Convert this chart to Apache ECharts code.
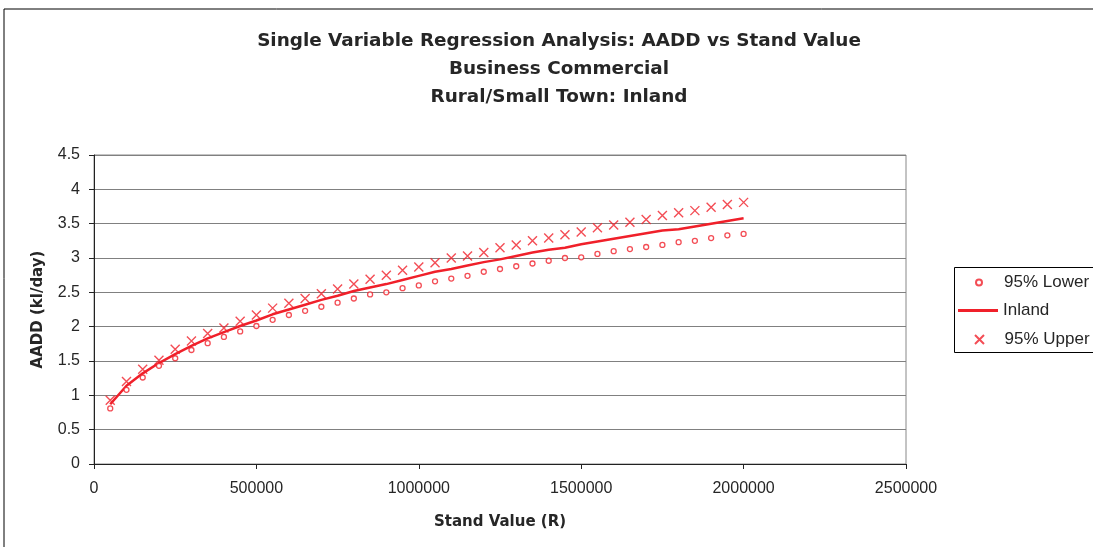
<!DOCTYPE html>
<html>
<head>
<meta charset="utf-8">
<script src="https://cdn.jsdelivr.net/npm/echarts@6/dist/echarts.min.js"></script>
<style>
html,body{margin:0;padding:0;background:#fff;}
#c{width:1093px;height:547px;}
</style>
</head>
<body>
<div id="c"></div>
<script>
const standValue = [50000,100000,150000,200000,250000,300000,350000,400000,450000,500000,
  550000,600000,650000,700000,750000,800000,850000,900000,950000,1000000,
  1050000,1100000,1150000,1200000,1250000,1300000,1350000,1400000,1450000,1500000,
  1550000,1600000,1650000,1700000,1750000,1800000,1850000,1900000,1950000,2000000];
const lower95 = [0.81,1.08,1.26,1.43,1.54,1.66,1.76,1.85,1.93,2.01,
  2.10,2.17,2.23,2.29,2.35,2.41,2.47,2.50,2.56,2.60,
  2.66,2.70,2.74,2.80,2.84,2.88,2.92,2.96,3.00,3.01,
  3.06,3.10,3.13,3.16,3.19,3.23,3.25,3.29,3.33,3.35];
const inland = [0.87,1.14,1.32,1.47,1.60,1.72,1.83,1.92,2.01,2.09,
  2.18,2.25,2.32,2.39,2.45,2.52,2.57,2.62,2.68,2.74,
  2.80,2.84,2.89,2.94,2.98,3.03,3.08,3.12,3.15,3.20,
  3.24,3.28,3.32,3.36,3.40,3.42,3.46,3.50,3.54,3.58];
const upper95 = [0.93,1.20,1.38,1.51,1.67,1.79,1.90,1.98,2.08,2.17,
  2.27,2.34,2.41,2.48,2.55,2.62,2.69,2.75,2.82,2.87,
  2.93,3.00,3.03,3.08,3.15,3.19,3.25,3.29,3.34,3.38,
  3.44,3.48,3.52,3.56,3.62,3.66,3.69,3.74,3.78,3.81];
const seriesNames = ['95% Lower','Inland','95% Upper'];
const titleLines = ['Single Variable Regression Analysis: AADD vs Stand Value','Business Commercial','Rural/Small Town: Inland'];
const xAxisTitle = 'Stand Value (R)';
const yAxisTitle = 'AADD (kl/day)';

const RED = '#f0202a';
const FONT = '"Liberation Sans", Arial, sans-serif';
const BOLDFONT = '"DejaVu Sans", "Liberation Sans", sans-serif';
const TXT = '#262626';
const pairs = ys => standValue.map((x,i)=>[x, ys[i]]);
const legendText = {fontFamily: FONT, fontSize: 17, color: TXT};

const chart = echarts.init(document.getElementById('c'), null, {renderer:'canvas'});
chart.setOption({
  animation: false,
  backgroundColor: '#fff',
  textStyle: {fontFamily: FONT},
  title: {
    text: titleLines.join('\n'),
    left: 554, top: 22, textAlign: 'center',
    textStyle: {fontFamily: BOLDFONT, fontSize: 18.4, fontWeight: 'bold', color: TXT, lineHeight: 28}
  },
  graphic: [
    {type:'rect', shape:{x:4, y:9, width:1200, height:700}, style:{fill:'none', stroke:'#000', lineWidth:1}, silent:true, z:-10},
    {type:'rect', shape:{x:954.5, y:267.5, width:200, height:85}, style:{fill:'#fff', stroke:'#000', lineWidth:1}, silent:true, z:-5}
  ],
  legend: [
    {data:[seriesNames[0]], left:975, top:274, padding:0, itemWidth:40, itemHeight:6, textStyle:legendText, selectedMode:false},
    {data:[{name:seriesNames[1], icon:'rect'}], left:958, top:302, padding:0, itemWidth:40, itemHeight:3, textStyle:legendText, selectedMode:false},
    {data:[seriesNames[2]], left:974, top:331, padding:0, itemWidth:40, itemHeight:9, textStyle:legendText, selectedMode:false}
  ],
  grid: {left:94, right:187, top:155, bottom:83, show:true, borderColor:'#888', borderWidth:1, backgroundColor:'#fff', containLabel:false},
  xAxis: {
    type:'value', min:0, max:2500000, interval:500000,
    name: xAxisTitle, nameLocation:'middle', nameGap:51,
    nameTextStyle:{fontFamily:BOLDFONT, fontSize:15, fontWeight:'bold', color:TXT},
    axisLine:{show:true, onZero:false, lineStyle:{color:'#222', width:1}},
    axisTick:{show:true, inside:false, length:5, lineStyle:{color:'#222'}},
    axisLabel:{margin:17, fontFamily:FONT, fontSize:16, color:TXT, formatter: v => String(v)},
    splitLine:{show:false}
  },
  yAxis: {
    type:'value', min:0, max:4.5, interval:0.5,
    name: yAxisTitle, nameLocation:'middle', nameGap:48, nameRotate:90,
    nameTextStyle:{fontFamily:BOLDFONT, fontSize:15, fontWeight:'bold', color:TXT},
    axisLine:{show:true, onZero:false, lineStyle:{color:'#222', width:1}},
    axisTick:{show:true, inside:false, length:5, lineStyle:{color:'#222'}},
    axisLabel:{margin:14, fontFamily:FONT, fontSize:16, color:TXT, formatter: v => String(v)},
    splitLine:{show:true, lineStyle:{color:'#808080', width:1}}
  },
  series: [
    {name:seriesNames[0], type:'scatter', data:pairs(lower95), symbol:'circle', symbolSize:5,
     itemStyle:{color:'#fff', borderColor:RED, borderWidth:1.3}, emphasis:{disabled:true}, z:3},
    {name:seriesNames[1], type:'line', data:pairs(inland), symbol:'none', showSymbol:false,
     lineStyle:{color:RED, width:2.5}, itemStyle:{color:RED}, emphasis:{disabled:true}, z:2},
    {name:seriesNames[2], type:'scatter', data:pairs(upper95), symbol:'path://M0,0L10,10M10,0L0,10', symbolSize:9,
     itemStyle:{color:'rgba(0,0,0,0)', borderColor:RED, borderWidth:1.4}, emphasis:{disabled:true}, z:4}
  ]
});
</script>
</body>
</html>
